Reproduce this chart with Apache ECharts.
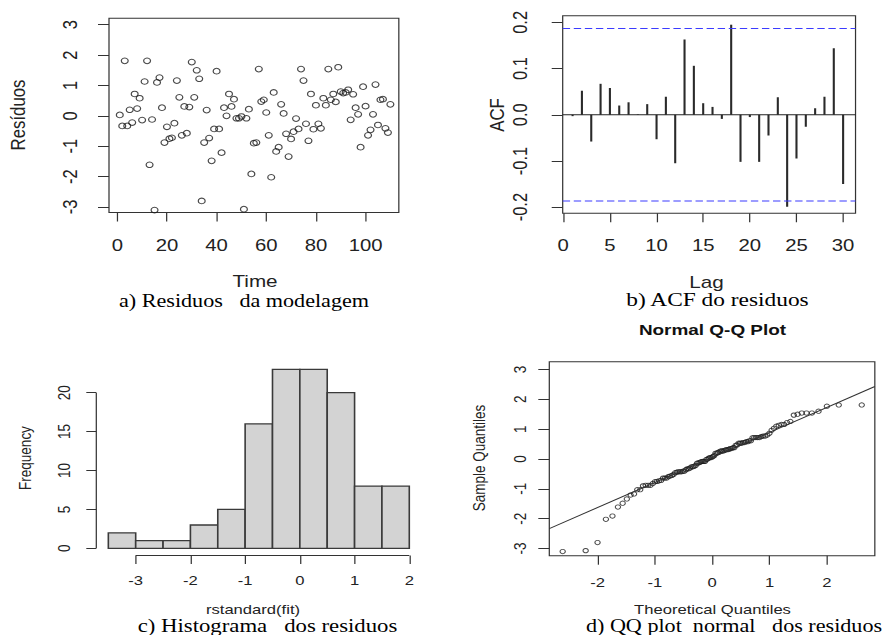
<!DOCTYPE html>
<html>
<head>
<meta charset="utf-8">
<script src="https://cdn.jsdelivr.net/npm/echarts@6/dist/echarts.min.js"></script>
<style>
html,body{margin:0;padding:0;background:#fff;overflow:hidden;}
#c{width:721.14px;height:635px;transform:scaleX(1.23);transform-origin:0 0;}
</style>
</head>
<body>
<div id="c"></div>
<script>
// ---------- data ----------
const residuals = [
  0.03,-0.33,1.81,-0.33,0.20,-0.22,0.72,0.24,0.58,-0.14,
  1.13,1.81,-1.61,-0.12,-3.10,1.10,1.26,0.27,-0.88,-0.36,
  -0.75,-0.72,-0.24,1.16,0.61,-0.64,0.31,-0.57,0.29,1.77,
  0.61,1.50,1.22,-2.80,-0.88,0.19,-0.73,-1.48,-0.43,1.47,
  -0.43,-1.21,0.27,0.00,0.72,0.31,0.55,-0.08,-0.08,-0.02,
  -3.07,-0.08,0.22,-1.91,-0.90,-0.88,1.54,0.47,0.53,0.11,
  -0.64,-2.02,0.77,-1.17,-1.03,0.38,0.08,-0.59,-1.34,-0.76,
  -0.52,-0.09,-0.43,1.54,1.16,-0.26,-0.82,0.72,-0.44,0.35,
  -0.26,-0.41,0.58,0.35,1.54,0.53,0.72,0.46,1.60,0.80,
  0.75,0.77,0.86,-0.13,0.71,0.27,0.05,-1.03,0.96,0.32,
  -0.64,-0.46,0.05,1.03,-0.30,0.53,0.55,-0.41,-0.55,0.38
];
const timeTicks = [0, 20, 40, 60, 80, 100];
const residTicks = [-3, -2, -1, 0, 1, 2, 3];

const acfLags = [1,2,3,4,5,6,7,8,9,10,11,12,13,14,15,16,17,18,19,20,21,22,23,24,25,26,27,28,29,30];
const acfValues = [-0.003,0.052,-0.058,0.067,0.058,0.020,0.027,0.001,0.023,-0.053,
                   0.039,-0.105,0.163,0.106,0.025,0.017,-0.009,0.195,-0.102,-0.005,
                   -0.102,-0.045,0.038,-0.199,-0.095,-0.026,0.014,0.039,0.144,-0.150];
const acfBound = 0.187;
const lagTicks = [0, 5, 10, 15, 20, 25, 30];
const acfTicks = [-0.2, -0.1, 0, 0.1, 0.2];

const histBreaks = [-3.5,-3,-2.5,-2,-1.5,-1,-0.5,0,0.5,1,1.5,2];
const histCounts = [2,1,1,3,5,16,23,23,20,8,8];
const histXTicks = [-3, -2, -1, 0, 1, 2];
const histYTicks = [0, 5, 10, 15, 20];

const qqXTicks = [-2, -1, 0, 1, 2];
const qqYTicks = [-3, -2, -1, 0, 1, 2, 3];
const qqIntercept = 0.05;
const qqSlope = 0.838;

// ---------- layout ----------
const S = 1.23; // horizontal stretch of the reference picture
const sx = px => px / S;
const SANS = '"Liberation Sans", Arial, sans-serif';
const SERIF = '"Liberation Serif", "Times New Roman", serif';
const TXT = '#222';

// axis limits
const aX = [-3.34, 113.4], aY = [-3.18, 3.21];
const bX = [-0.06, 31.33], bY = [-0.2134, 0.2145];
const cX = [-3.72, 2.22], cY = [-0.92, 23.92];
const dX = [-2.842, 2.837], dY = [-3.24, 3.26];

function qnorm(p){
  const a=[-3.969683028665376e+01,2.209460984245205e+02,-2.759285104469687e+02,1.383577518672690e+02,-3.066479806614716e+01,2.506628277459239e+00];
  const b=[-5.447609879822406e+01,1.615858368580409e+02,-1.556989798598866e+02,6.680131188771972e+01,-1.328068155288572e+01];
  const c=[-7.784894002430293e-03,-3.223964580411365e-01,-2.400758277161838e+00,-2.549732539343734e+00,4.374664141464968e+00,2.938163982698783e+00];
  const d=[7.784695709041462e-03,3.224671290700398e-01,2.445134137142996e+00,3.754408661907416e+00];
  const pl=0.02425, ph=1-pl; let q,r;
  if(p<pl){q=Math.sqrt(-2*Math.log(p));return (((((c[0]*q+c[1])*q+c[2])*q+c[3])*q+c[4])*q+c[5])/((((d[0]*q+d[1])*q+d[2])*q+d[3])*q+1);}
  if(p<=ph){q=p-0.5;r=q*q;return (((((a[0]*r+a[1])*r+a[2])*r+a[3])*r+a[4])*r+a[5])*q/(((((b[0]*r+b[1])*r+b[2])*r+b[3])*r+b[4])*r+1);}
  q=Math.sqrt(-2*Math.log(1-p));return -(((((c[0]*q+c[1])*q+c[2])*q+c[3])*q+c[4])*q+c[5])/((((d[0]*q+d[1])*q+d[2])*q+d[3])*q+1);
}

// qqnorm: sorted sample vs normal quantiles of ppoints(n)
const sorted = residuals.slice().sort((u,v)=>u-v);
const n = sorted.length;
const qqData = sorted.map((v,i)=>[qnorm((i+1-0.5)/n), v]);

function axis(o){
  return {
    type:'value', gridIndex:o.g, min:o.min, max:o.max, position:o.pos,
    axisLine:{show:false, onZero:false},
    splitLine:{show:false},
    axisTick:{show:true, customValues:o.ticks, length:o.tl, lineStyle:{color:'#333', width:1}},
    axisLabel:{show:true, customValues:o.ticks, margin:o.margin, rotate:o.rot||0,
      fontSize:o.fs, fontFamily:SANS, color:TXT, formatter:o.fmt || (v=>String(v))}
  };
}

const grids = [
  {left:sx(109), right:sx(887-399), top:18.3, bottom:635-212.5, show:true, borderColor:'#333', borderWidth:1, outerBoundsMode:'none'},
  {left:sx(562.7), right:sx(887-855.7), top:15.7, bottom:635-213.3, show:true, borderColor:'#333', borderWidth:1, outerBoundsMode:'none'},
  {left:sx(96.3), right:sx(887-421.5), top:362.2, bottom:635-555.5, show:false, outerBoundsMode:'none'},
  {left:sx(549.3), right:sx(887-875), top:361.7, bottom:635-555.7, show:true, borderColor:'#333', borderWidth:1, outerBoundsMode:'none'}
];

const xAxes = [
  axis({g:0, min:aX[0], max:aX[1], pos:'bottom', ticks:timeTicks, tl:9, margin:24, fs:16.5}),
  axis({g:1, min:bX[0], max:bX[1], pos:'bottom', ticks:lagTicks, tl:9, margin:23.5, fs:16.5}),
  axis({g:2, min:cX[0], max:cX[1], pos:'bottom', ticks:histXTicks, tl:8.5, margin:18, fs:13.5}),
  axis({g:3, min:dX[0], max:dX[1], pos:'bottom', ticks:qqXTicks, tl:9, margin:19, fs:13.5})
];
const yAxes = [
  axis({g:0, min:aY[0], max:aY[1], pos:'left', ticks:residTicks, tl:sx(11), margin:sx(29), fs:16.5, rot:90}),
  axis({g:1, min:bY[0], max:bY[1], pos:'left', ticks:acfTicks, tl:sx(11), margin:sx(32), fs:16.5, rot:90, fmt:v=>Number(v).toFixed(1)}),
  axis({g:2, min:cY[0], max:cY[1], pos:'left', ticks:histYTicks, tl:sx(10), margin:sx(24), fs:13.5, rot:90}),
  axis({g:3, min:dY[0], max:dY[1], pos:'left', ticks:qqYTicks, tl:sx(11), margin:sx(21), fs:13.5, rot:90})
];

function seg(xi, data, color, width, type){
  return {type:'line', xAxisIndex:xi, yAxisIndex:xi, data:data, showSymbol:false, symbol:'none',
    silent:true, clip:false, animation:false,
    lineStyle:{color:color, width:width, type:type||'solid'}};
}

const series = [
  // a) residuals over time
  {type:'scatter', xAxisIndex:0, yAxisIndex:0, silent:true, animation:false,
   data: residuals.map((v,i)=>[i+1, v]), symbol:'circle', symbolSize:5.6,
   itemStyle:{color:'rgba(0,0,0,0)', borderColor:'#1a1a1a', borderWidth:1}},
  // b) ACF spikes
  {type:'custom', xAxisIndex:1, yAxisIndex:1, silent:true, animation:false,
   data: acfLags.map((l,i)=>[l, acfValues[i]]), encode:{x:0, y:1},
   renderItem:(params, api)=>{
     const p0 = api.coord([api.value(0), 0]);
     const p1 = api.coord([api.value(0), api.value(1)]);
     return {type:'line', shape:{x1:p0[0], y1:p0[1], x2:p1[0], y2:p1[1]},
             style:{stroke:'#2a2a2a', lineWidth:1.7}};
   }},
  seg(1, [[bX[0],0],[bX[1],0]], '#222', 1),
  seg(1, [[bX[0],acfBound],[bX[1],acfBound]], '#3b3bff', 1, [6,3]),
  seg(1, [[bX[0],-acfBound],[bX[1],-acfBound]], '#3b3bff', 1, [6,3]),
  // c) histogram
  {type:'custom', xAxisIndex:2, yAxisIndex:2, silent:true, animation:false,
   data: histCounts.map((c,i)=>[histBreaks[i], histBreaks[i+1], c]), encode:{x:[0,1], y:2},
   renderItem:(params, api)=>{
     const p0 = api.coord([api.value(0), api.value(2)]);
     const p1 = api.coord([api.value(1), 0]);
     return {type:'rect', shape:{x:p0[0], y:p0[1], width:p1[0]-p0[0], height:p1[1]-p0[1]},
             style:{fill:'#d3d3d3', stroke:'#3a3a3a', lineWidth:1.3}};
   }},
  seg(2, [[histXTicks[0], cY[0]], [histXTicks[histXTicks.length-1], cY[0]]], '#333', 1),
  seg(2, [[cX[0], histYTicks[0]], [cX[0], histYTicks[histYTicks.length-1]]], '#333', 1),
  // d) QQ plot
  seg(3, [[dX[0], qqIntercept+qqSlope*dX[0]], [dX[1], qqIntercept+qqSlope*dX[1]]], '#333', 1),
  {type:'scatter', xAxisIndex:3, yAxisIndex:3, silent:true, animation:false,
   data: qqData, symbol:'circle', symbolSize:4.3,
   itemStyle:{color:'rgba(0,0,0,0)', borderColor:'#1a1a1a', borderWidth:0.9}}
];

function txt(text, x, y, font, opt){
  opt = opt || {};
  return {type:'text', x:sx(x), y:y, rotation:opt.rot||0, silent:true,
    style:{text:text, font:font, fill:opt.fill||TXT,
      textAlign:'center', textVerticalAlign:'middle', align:'center', verticalAlign:'middle'}};
}

const graphics = [
  txt('Resíduos', 18.3, 115, '16.8px ' + SANS, {rot:Math.PI/2}),
  txt('Time', 255, 281.5, '16.8px ' + SANS),
  txt('a) Residuos   da modelagem', 244, 300.8, '18px ' + SERIF, {fill:'#000'}),
  txt('ACF', 497, 115, '16.8px ' + SANS, {rot:Math.PI/2}),
  txt('Lag', 706.5, 281.8, '16.8px ' + SANS),
  txt('b) ACF do residuos', 717.5, 300.2, '19px ' + SERIF, {fill:'#000'}),
  txt('Frequency', 25, 458, '13.5px ' + SANS, {rot:Math.PI/2}),
  txt('rstandard(fit)', 253, 609.4, '13.5px ' + SANS),
  txt('c) Histograma   dos residuos', 267.5, 625.4, '18.5px ' + SERIF, {fill:'#000'}),
  txt('Normal Q-Q Plot', 712.5, 329.6, 'bold 15.4px ' + SANS, {fill:'#111'}),
  txt('Sample Quantiles', 478.5, 458, '13.5px ' + SANS, {rot:Math.PI/2}),
  txt('Theoretical Quantiles', 712.5, 609.4, '13.5px ' + SANS),
  txt('d) QQ plot  normal   dos residuos', 734, 625.6, '18px ' + SERIF, {fill:'#000'})
];

const chart = echarts.init(document.getElementById('c'), null, {renderer:'svg'});
chart.setOption({
  animation:false,
  backgroundColor:'#fff',
  grid:grids, xAxis:xAxes, yAxis:yAxes, series:series,
  graphic:{elements:graphics}
});
</script>
</body>
</html>
